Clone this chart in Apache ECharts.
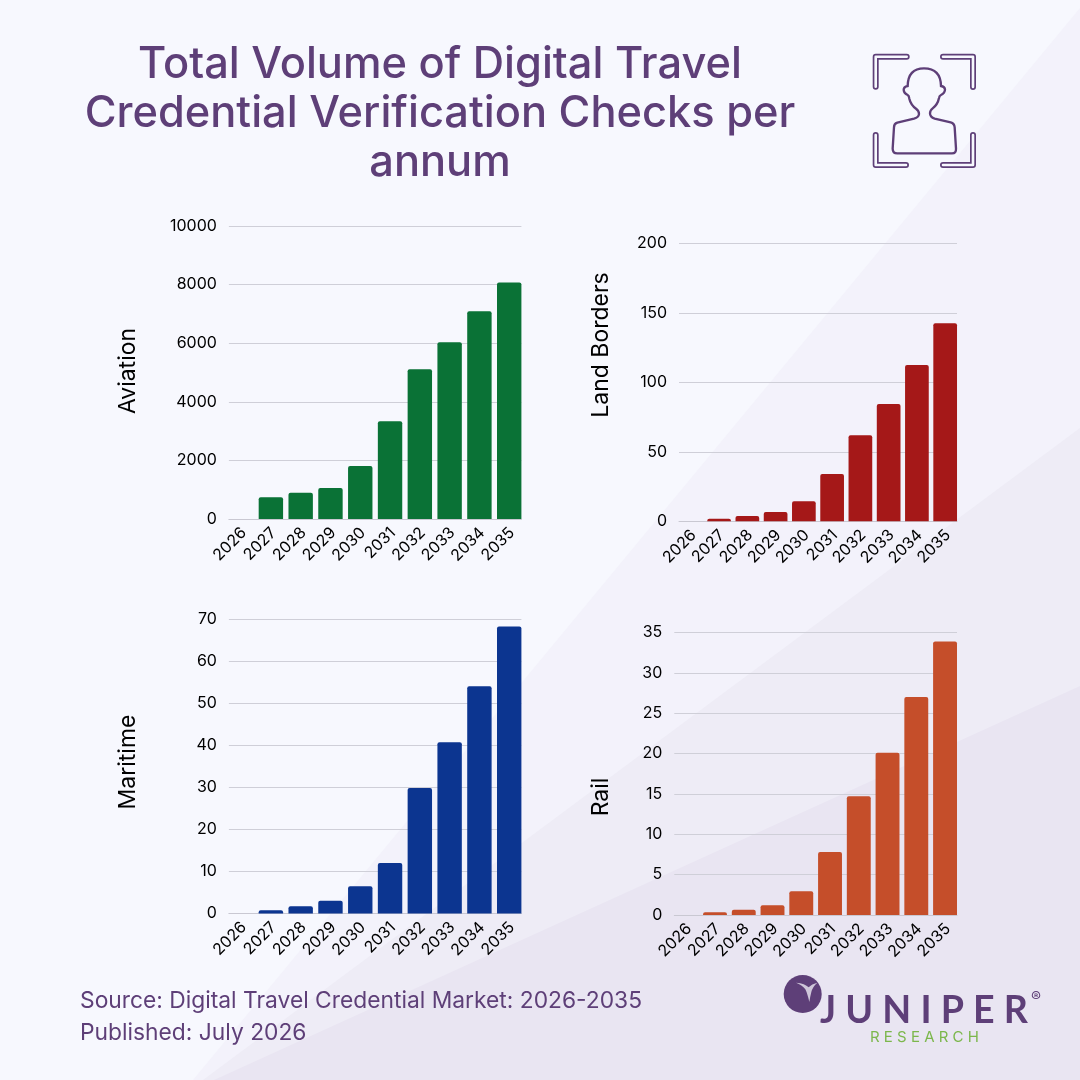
<!DOCTYPE html>
<html>
<head>
<meta charset="utf-8">
<style>html,body{margin:0;padding:0;background:#f7f8fe}#c{width:1080px;height:1080px}</style>
<script src="https://cdn.jsdelivr.net/npm/echarts@6/dist/echarts.min.js"></script>
</head>
<body>
<div id="c"></div>
<script>
const titleLines = ['Total Volume of Digital Travel', 'Credential Verification Checks per', 'annum'];
const categories = ['2026','2027','2028','2029','2030','2031','2032','2033','2034','2035'];
const aviationValues = [0, 740, 896, 1056, 1806, 3340, 5110, 6030, 7090, 8070];
const landBordersValues = [0, 1.9, 3.8, 6.7, 14.4, 34, 62, 84.5, 112.5, 142.6];
const maritimeValues = [0, 0.8, 1.7, 3, 6.5, 12, 29.8, 40.7, 54, 68.2];
const railValues = [0, 0.35, 0.65, 1.2, 2.95, 7.8, 14.7, 20.1, 27, 33.9];
const sourceText = 'Source: Digital Travel Credential Market: 2026-2035';
const publishedText = 'Published: July 2026';

const FONT = 'Inter';
const PURPLE = '#5e3f78';
const panels = [
  {name:'Aviation', values:aviationValues, color:'#0a7236', max:10000, interval:2000, l:228.9, r:521.4, t:226, b:519, step:29.8, bw:24.4, nameX:128.5, nameY:371},
  {name:'Land Borders', values:landBordersValues, color:'#a51818', max:200, interval:50, l:679, r:957, t:243.5, b:521.3, step:28.3, bw:23.7, nameX:601, nameY:345},
  {name:'Maritime', values:maritimeValues, color:'#0c3590', max:70, interval:10, l:228.9, r:521.4, t:618.8, b:913.5, step:29.8, bw:24.4, nameX:128.5, nameY:762},
  {name:'Rail', values:railValues, color:'#c54e2a', max:35, interval:5, l:674.3, r:957, t:632.5, b:915, step:28.75, bw:23.9, nameX:601, nameY:797}
];

const grid = [], xAxis = [], yAxis = [], series = [];
panels.forEach((p, i) => {
  const pad = (p.step - p.bw) / 2;
  grid.push({left:p.l - pad, top:p.t, width:p.r - p.l + 2 * pad, height:p.b - p.t});
  xAxis.push({type:'category', gridIndex:i, data:categories, axisLine:{show:false}, axisTick:{show:false},
    axisLabel:{rotate:45, margin:14, interval:0, color:'#000', fontFamily:FONT, fontSize:16, padding:[0,-4,0,0]}});
  yAxis.push({type:'value', gridIndex:i, min:0, max:p.max, interval:p.interval, show:false});
  series.push({type:'bar', name:p.name, xAxisIndex:i, yAxisIndex:i, data:p.values, barWidth:p.bw,
    itemStyle:{color:p.color, borderRadius:[2,2,0,0]}, silent:true, animation:false});
});
panels.forEach((p, i) => {
  grid.push({left:p.l, top:p.t, width:p.r - p.l, height:p.b - p.t});
  xAxis.push({type:'category', gridIndex:4 + i, data:categories, axisLabel:{show:false}, axisTick:{show:false},
    axisLine:{show:true, lineStyle:{color:'#c9c8d2', width:1}}});
  yAxis.push({type:'value', gridIndex:4 + i, min:0, max:p.max, interval:p.interval,
    axisLine:{show:false}, axisTick:{show:false},
    axisLabel:{margin:12, color:'#000', fontFamily:FONT, fontSize:16, formatter:v => String(v)},
    splitLine:{show:true, lineStyle:{color:'#cfcfd8', width:1}}});
});

echarts.graphic.registerShape('personOutline', echarts.graphic.extendPath('M172 370 L336 370 Q349 370 348 356 L344 292 Q343 280 332 277 L284 266 Q270 262 270 250 Q270 241 278 235 Q293 224 297 204 Q298 197 303 195 Q315 190 315 178 Q314 170 303 168 Q302 115 252 115 Q204 115 203 168 Q191 170 191 180 Q192 191 203 195 Q207 197 208 206 Q212 224 229 237 Q237 243 237 252 Q236 262 222 266 L172 278 Q162 281 162 292 L158 356 Q158 370 172 370 Z'));
echarts.graphic.registerShape('logoWing', echarts.graphic.extendPath('M108 68 Q135 70 146 82 Q155 72 172 68 Q158 80 154 96 Q150 112 148 126 Q142 100 136 88 Q126 74 108 68 Z'));

const bgShape = (pts, fill) => ({type:'polygon', z:-10, silent:true, shape:{points:pts}, style:{fill}});
const bracket = pts => [
  {type:'polyline', z:5, silent:true, shape:{points:pts}, style:{stroke:PURPLE, fill:'none', lineWidth:6, lineCap:'round', lineJoin:'round'}},
  {type:'polyline', z:6, silent:true, shape:{points:pts}, style:{stroke:'#f7f8fe', fill:'none', lineWidth:2.6, lineCap:'round', lineJoin:'round'}}
];
const graphic = [
  bgShape([[1080,8],[1080,1080],[193,1080]], '#f3f2fb'),
  bgShape([[1080,428],[1080,1080],[203,1080]], '#eeecf6'),
  bgShape([[1080,686],[1080,1080],[214,1080]], '#e9e5f2'),
  ...bracket([[906.7,56.7],[875.7,56.7],[875.7,86.7]]),
  ...bracket([[943,56.7],[973,56.7],[973,87]]),
  ...bracket([[875.7,135],[875.7,165],[906,165]]),
  ...bracket([[973,135],[973,165],[943,165]]),
  {type:'personOutline', z:5, silent:true, x:840, y:30, scaleX:1/3, scaleY:1/3,
    style:{stroke:PURPLE, fill:'none', lineWidth:7}},
  ...panels.map(p => ({type:'text', z:5, silent:true, x:p.nameX, y:p.nameY, rotation:Math.PI/2,
    style:{text:p.name, x:0, y:0, fill:'#000', font:'23px '+FONT, align:'center', verticalAlign:'middle'}})),
  {type:'text', z:5, silent:true, style:{text:sourceText, x:80, y:1001, fill:PURPLE, font:'22.8px '+FONT, verticalAlign:'middle'}},
  {type:'text', z:5, silent:true, style:{text:publishedText, x:80, y:1033, fill:PURPLE, font:'22.8px '+FONT, verticalAlign:'middle'}},
  {type:'circle', z:5, silent:true, shape:{cx:802.7, cy:994, r:19}, style:{fill:PURPLE}},
  {type:'logoWing', z:6, silent:true, x:760, y:960, scaleX:1/3, scaleY:1/3, style:{fill:'#cfc6d9'}},
  {type:'text', z:5, silent:true, style:{text:'J U N I P E R', x:820, y:1011, fill:PURPLE, font:'bold 37.6px Lato', verticalAlign:'middle'}},
  {type:'text', z:5, silent:true, style:{text:'®', x:1031, y:997, fill:PURPLE, font:'15px '+FONT, verticalAlign:'middle'}},
  {type:'text', z:5, silent:true, style:{text:'R E S E A R C H', x:870, y:1037, fill:'#7cb74c', font:'15px '+FONT, verticalAlign:'middle'}}
];

const chart = echarts.init(document.getElementById('c'), null, {renderer:'canvas', width:1080, height:1080});
chart.setOption({
  animation:false,
  backgroundColor:'#f7f8fe',
  title:{text:titleLines.join('\n'), left:435, top:35, textAlign:'center',
    textStyle:{color:PURPLE, fontFamily:FONT, fontWeight:500, fontSize:43.4, lineHeight:49}},
  grid, xAxis, yAxis, series, graphic
});
</script>
</body>
</html>
